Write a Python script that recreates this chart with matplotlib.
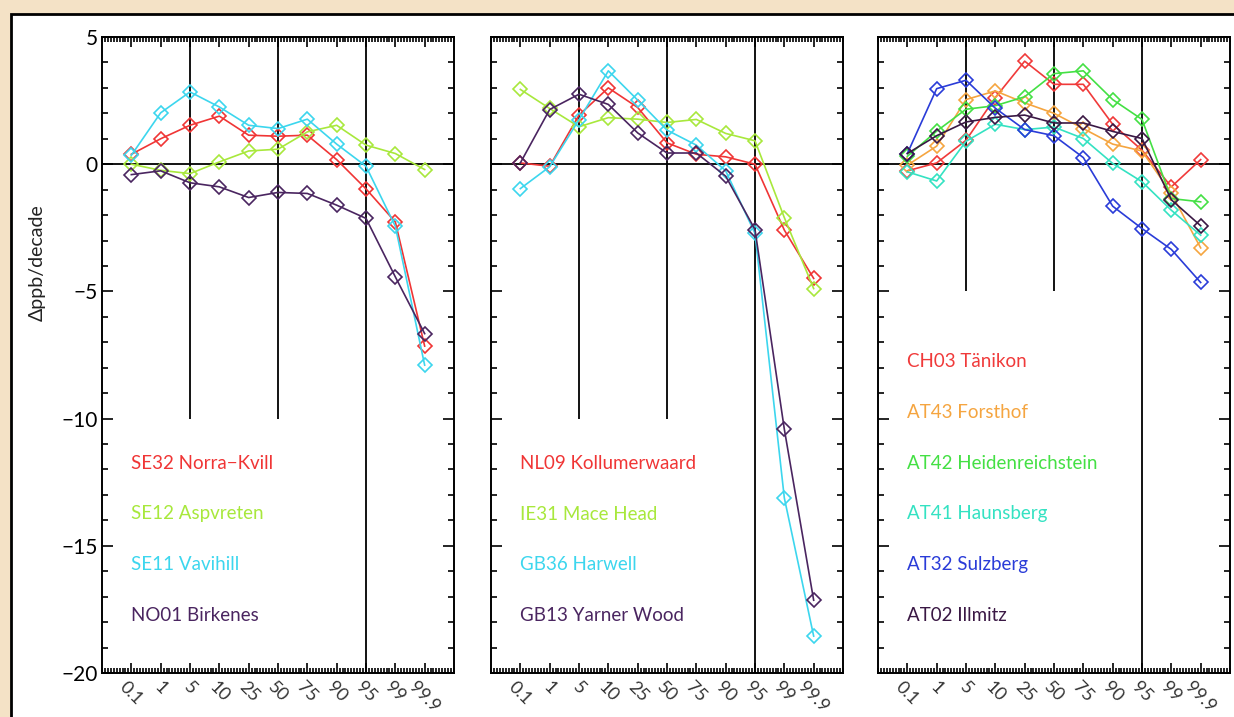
import matplotlib
matplotlib.use("Agg")
import matplotlib.pyplot as plt
from matplotlib.patches import Rectangle
from matplotlib.ticker import MultipleLocator, FixedLocator

plt.rcParams['font.family'] = ['Lato', 'DejaVu Sans']

# percentiles on the x axis
percentiles = ['0.1', '1', '5', '10', '25', '50', '75', '90', '95', '99', '99.9']

# panel 1: Scandinavia
p1_names = ['SE32 Norra\u2212Kvill', 'SE12 Aspvreten', 'SE11 Vavihill', 'NO01 Birkenes']
p1_colors = ['#f03535', '#a8e83c', '#3cd6ee', '#4a2560']
p1_values = [
    [0.39, 1.0, 1.53, 1.89, 1.14, 1.1, 1.14, 0.18, -0.97, -2.27, -7.15],
    [0.0, -0.24, -0.37, 0.09, 0.52, 0.59, 1.27, 1.53, 0.75, 0.42, -0.21],
    [0.35, 2.02, 2.84, 2.25, 1.53, 1.4, 1.77, 0.79, -0.08, -2.44, -7.9],
    [-0.41, -0.26, -0.73, -0.89, -1.31, -1.11, -1.15, -1.61, -2.13, -4.43, -6.66],
]

# panel 2: NL / IE / GB
p2_names = ['NL09 Kollumerwaard', 'IE31 Mace Head', 'GB36 Harwell', 'GB13 Yarner Wood']
p2_colors = ['#f03535', '#a8e83c', '#3cd6ee', '#4a2560']
p2_values = [
    [0.05, -0.08, 1.93, 3.0, 2.23, 0.84, 0.39, 0.29, 0.0, -2.59, -4.49],
    [2.94, 2.19, 1.47, 1.83, 1.77, 1.64, 1.76, 1.21, 0.92, -2.1, -4.89],
    [-0.96, -0.1, 1.75, 3.67, 2.52, 1.34, 0.75, -0.26, -2.72, -13.12, -18.55],
    [0.05, 2.15, 2.75, 2.35, 1.23, 0.44, 0.44, -0.47, -2.57, -10.42, -17.14],
]

# panel 3: CH / AT
p3_names = ['CH03 T\u00e4nikon', 'AT43 Forsthof', 'AT42 Heidenreichstein',
            'AT41 Haunsberg', 'AT32 Sulzberg', 'AT02 Illmitz']
p3_colors = ['#f03a3a', '#f5a540', '#44e044', '#34e2c2', '#2a3cd8', '#3a1844']
p3_values = [
    [-0.26, 0.05, 0.94, 2.62, 4.05, 3.14, 3.14, 1.57, 0.55, -0.89, 0.18],
    [-0.04, 0.71, 2.54, 2.88, 2.41, 2.0, 1.4, 0.79, 0.52, -1.15, -3.29],
    [0.31, 1.3, 2.16, 2.3, 2.65, 3.56, 3.67, 2.54, 1.76, -1.35, -1.48],
    [-0.3, -0.66, 0.9, 1.57, 1.36, 1.46, 1.01, 0.03, -0.69, -1.81, -2.79],
    [0.42, 2.97, 3.3, 2.2, 1.36, 1.12, 0.26, -1.65, -2.53, -3.35, -4.65],
    [0.42, 1.12, 1.66, 1.84, 1.93, 1.62, 1.62, 1.29, 1.01, -1.4, -2.42],
]

panels = [
    (p1_names, p1_colors, p1_values, -10, -11.75),
    (p2_names, p2_colors, p2_values, -10, -11.75),
    (p3_names, p3_colors, p3_values, -5, -7.75),
]

W, H = 1234, 717
fig = plt.figure(figsize=(W / 100, H / 100), dpi=100, facecolor='#f4e2c6')
fig.add_artist(Rectangle((11 / W, -0.01), 1.1, (H - 14) / H + 0.01,
                         transform=fig.transFigure, facecolor='white',
                         edgecolor='black', linewidth=2, zorder=0))

lefts = [102, 491, 878]
width = 352
bottom, top = 673, 37
x = list(range(len(percentiles)))

for i, (names, colors, values, vl_bottom, label_y) in enumerate(panels):
    ax = fig.add_axes([lefts[i] / W, 1 - bottom / H, width / W, (bottom - top) / H])
    ax.set_facecolor('white')
    ax.set_xlim(-1, 11)
    ax.set_ylim(-20, 5)

    ax.axhline(0, color='black', lw=1.3, zorder=1)
    ax.vlines([2, 5], vl_bottom, 5, color='black', lw=1.3, zorder=1)
    ax.axvline(8, color='black', lw=1.3, zorder=1)

    for j, (name, col, vals) in enumerate(zip(names, colors, values)):
        ax.plot(x, vals, color=col, lw=1.2, marker='D', ms=7.5, mfc='none',
                mec=col, mew=1.2, zorder=3)
        ax.text(0, label_y - 2 * j, name, color=col, fontsize=13.5,
                ha='left', va='center')

    ax.xaxis.set_major_locator(FixedLocator(x))
    ax.xaxis.set_minor_locator(MultipleLocator(0.1))
    ax.yaxis.set_major_locator(MultipleLocator(5))
    ax.yaxis.set_minor_locator(MultipleLocator(1))
    ax.set_xticklabels(percentiles, rotation=-45, ha='center', va='top',
                       fontsize=13, color='#333333')
    ax.tick_params(which='both', direction='in', top=True, right=True,
                   width=1.2, colors='black')
    ax.tick_params(axis='x', which='major', length=7, pad=4, labelcolor='#333333')
    ax.tick_params(axis='x', which='minor', length=3.5)
    ax.tick_params(axis='y', which='major', length=8, labelsize=15, pad=3)
    ax.tick_params(axis='y', which='minor', length=4)
    if i > 0:
        ax.set_yticklabels([])
    for s in ax.spines.values():
        s.set_linewidth(1.4)

fig.text(37 / W, 1 - 263 / H, '\u0394ppb/decade', rotation=90, fontsize=14,
         ha='center', va='center', color='#222222')

fig.savefig('out.png', dpi=100, facecolor=fig.get_facecolor())
